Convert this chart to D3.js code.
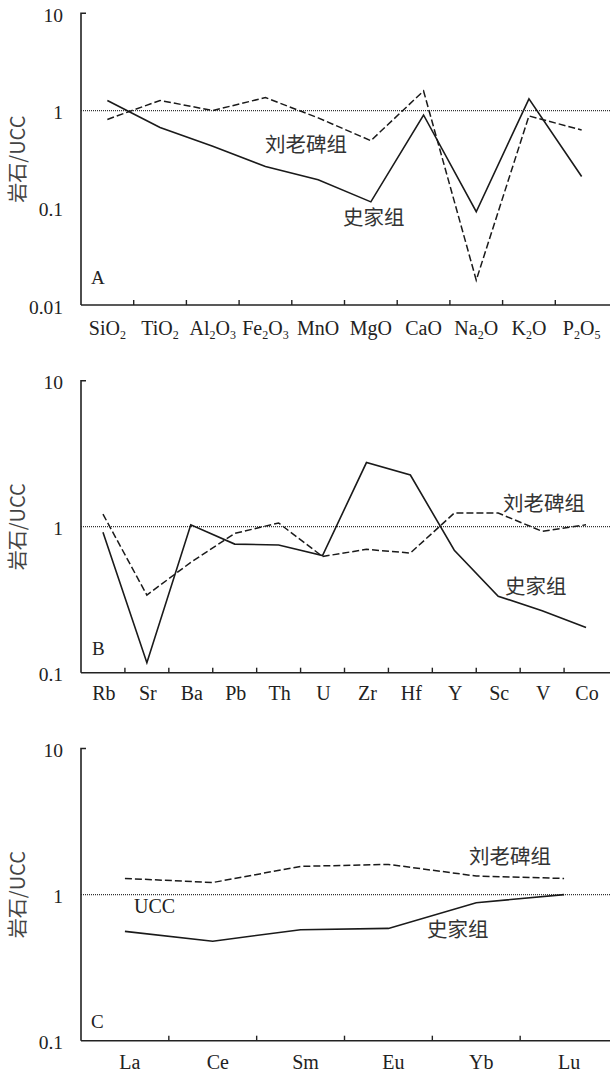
<!DOCTYPE html>
<html>
<head>
<meta charset="utf-8">
<script src="https://cdn.jsdelivr.net/npm/d3@7/dist/d3.min.js"></script>
<style>
  html, body { margin: 0; padding: 0; background: #fff; }
  svg { display: block; }
</style>
</head>
<body>
<svg id="chart" width="610" height="1075"></svg>
<script>
// ---------- DATA ----------
const oxideCats = ["SiO2","TiO2","Al2O3","Fe2O3","MnO","MgO","CaO","Na2O","K2O","P2O5"];
const oxideShijia = [1.27, 0.67, 0.43, 0.266, 0.194, 0.115, 0.90, 0.091, 1.32, 0.21];
const oxideLiulaobei = [0.81, 1.27, 1.0, 1.36, 0.84, 0.49, 1.59, 0.018, 0.88, 0.63];

const traceCats = ["Rb","Sr","Ba","Pb","Th","U","Zr","Hf","Y","Sc","V","Co"];
const traceShijia = [0.915, 0.117, 1.03, 0.76, 0.75, 0.635, 2.75, 2.26, 0.69, 0.334, 0.266, 0.204];
const traceLiulaobei = [1.22, 0.34, 0.57, 0.90, 1.06, 0.625, 0.70, 0.66, 1.24, 1.24, 0.93, 1.03];

const reeCats = ["La","Ce","Sm","Eu","Yb","Lu"];
const reeShijia = [0.56, 0.48, 0.575, 0.587, 0.88, 1.0];
const reeLiulaobei = [1.29, 1.21, 1.56, 1.61, 1.34, 1.29];

const ticksA = [10, 1, 0.1, 0.01];
const ticksBC = [10, 1, 0.1];
const tickLabels = {10: "10", 1: "1", 0.1: "0.1", 0.01: "0.01"};

const yAxisTitle = "岩石/UCC";
const nameShijia = "史家组";
const nameLiulaobei = "刘老碑组";

// ---------- DRAW ----------
const svg = d3.select("#chart");
const serif = "'Liberation Serif','Times New Roman',serif";
const cjk = "'Noto Sans CJK SC','Noto Sans',sans-serif";
const axisX = 81, rightX = 608;

const panels = [
  { cats: oxideCats, s: oxideShijia, l: oxideLiulaobei, domain: [0.01, 10], ticks: ticksA,
    top: 13.3, bottom: 305, letter: "A", letterPos: [91, 284], labelBase: 335, labelShift: 0,
    lText: [265, 152], sText: [343, 225] },
  { cats: traceCats, s: traceShijia, l: traceLiulaobei, domain: [0.1, 10], ticks: ticksBC,
    top: 380.7, bottom: 672.7, letter: "B", letterPos: [92, 655], labelBase: 700, labelShift: 1,
    lText: [503, 511], sText: [505, 594] },
  { cats: reeCats, s: reeShijia, l: reeLiulaobei, domain: [0.1, 10], ticks: ticksBC,
    top: 748.5, bottom: 1040.7, letter: "C", letterPos: [91, 1028], labelBase: 1069, labelShift: 5,
    lText: [469, 864], sText: [427, 937], ucc: [134, 913] }
];

panels.forEach(p => {
  const g = svg.append("g");
  const x = d3.scaleBand().domain(p.cats).range([axisX, rightX]).paddingInner(0).paddingOuter(0);
  const y = d3.scaleLog().domain(p.domain).range([p.bottom, p.top]);

  // UCC reference line (value 1)
  g.append("line")
    .attr("x1", axisX).attr("x2", 610)
    .attr("y1", y(1)).attr("y2", y(1))
    .attr("stroke", "#333").attr("stroke-width", 1.3)
    .attr("stroke-dasharray", "1,1");

  // y axis line with top tick
  g.append("path")
    .attr("d", `M${axisX + 5},${y(p.domain[1])}H${axisX}V${y(p.domain[0])}`)
    .attr("fill", "none").attr("stroke", "#222").attr("stroke-width", 1.6);

  // x axis line
  g.append("line")
    .attr("x1", axisX).attr("x2", 610)
    .attr("y1", p.bottom).attr("y2", p.bottom)
    .attr("stroke", "#222").attr("stroke-width", 1.6);

  // x ticks at band boundaries (inward)
  p.cats.slice(1).forEach(c => {
    g.append("line")
      .attr("x1", x(c)).attr("x2", x(c))
      .attr("y1", p.bottom).attr("y2", p.bottom - 5)
      .attr("stroke", "#222").attr("stroke-width", 1.4);
  });

  // y tick labels
  p.ticks.forEach(t => {
    g.append("text")
      .attr("x", 63).attr("y", y(t) + 8.5)
      .attr("text-anchor", "end")
      .attr("font-family", serif).attr("font-size", 19.5)
      .attr("fill", "#222")
      .text(tickLabels[t]);
  });

  // x category labels with subscripts
  p.cats.forEach(c => {
    const t = g.append("text")
      .attr("x", x(c) + x.bandwidth() / 2 + p.labelShift).attr("y", p.labelBase)
      .attr("text-anchor", "middle")
      .attr("font-family", serif).attr("font-size", 20)
      .attr("fill", "#222");
    const parts = c.match(/[A-Za-z]+|\d+/g);
    let sub = false;
    parts.forEach(part => {
      if (/\d/.test(part)) {
        t.append("tspan").attr("font-size", 12).attr("dy", 4).text(part);
        sub = true;
      } else {
        const ts = t.append("tspan").text(part);
        if (sub) { ts.attr("dy", -4); sub = false; }
      }
    });
  });

  // series lines
  const line = d3.line()
    .x((d, i) => x(p.cats[i]) + x.bandwidth() / 2)
    .y(d => y(d));

  g.append("path").datum(p.s)
    .attr("d", line)
    .attr("fill", "none").attr("stroke", "#1a1a1a").attr("stroke-width", 1.6)
    .attr("stroke-linejoin", "miter");

  g.append("path").datum(p.l)
    .attr("d", line)
    .attr("fill", "none").attr("stroke", "#1a1a1a").attr("stroke-width", 1.5)
    .attr("stroke-dasharray", "7,3");

  // panel letter
  g.append("text")
    .attr("x", p.letterPos[0]).attr("y", p.letterPos[1])
    .attr("font-family", serif).attr("font-size", 19).attr("fill", "#222")
    .text(p.letter);

  // series names
  g.append("text")
    .attr("x", p.lText[0]).attr("y", p.lText[1])
    .attr("font-family", cjk).attr("font-size", 20.5).attr("fill", "#333")
    .text(nameLiulaobei);
  g.append("text")
    .attr("x", p.sText[0]).attr("y", p.sText[1])
    .attr("font-family", cjk).attr("font-size", 20.5).attr("fill", "#333")
    .text(nameShijia);

  if (p.ucc) {
    g.append("text")
      .attr("x", p.ucc[0]).attr("y", p.ucc[1])
      .attr("font-family", serif).attr("font-size", 20).attr("fill", "#222")
      .text("UCC");
  }

  // y axis title
  const cy = (p.top + p.bottom) / 2;
  g.append("text")
    .attr("transform", `translate(16,${cy}) rotate(-90)`)
    .attr("text-anchor", "middle")
    .attr("dominant-baseline", "central")
    .attr("font-family", cjk).attr("font-size", 20).attr("fill", "#444")
    .text(yAxisTitle);
});
</script>
</body>
</html>
